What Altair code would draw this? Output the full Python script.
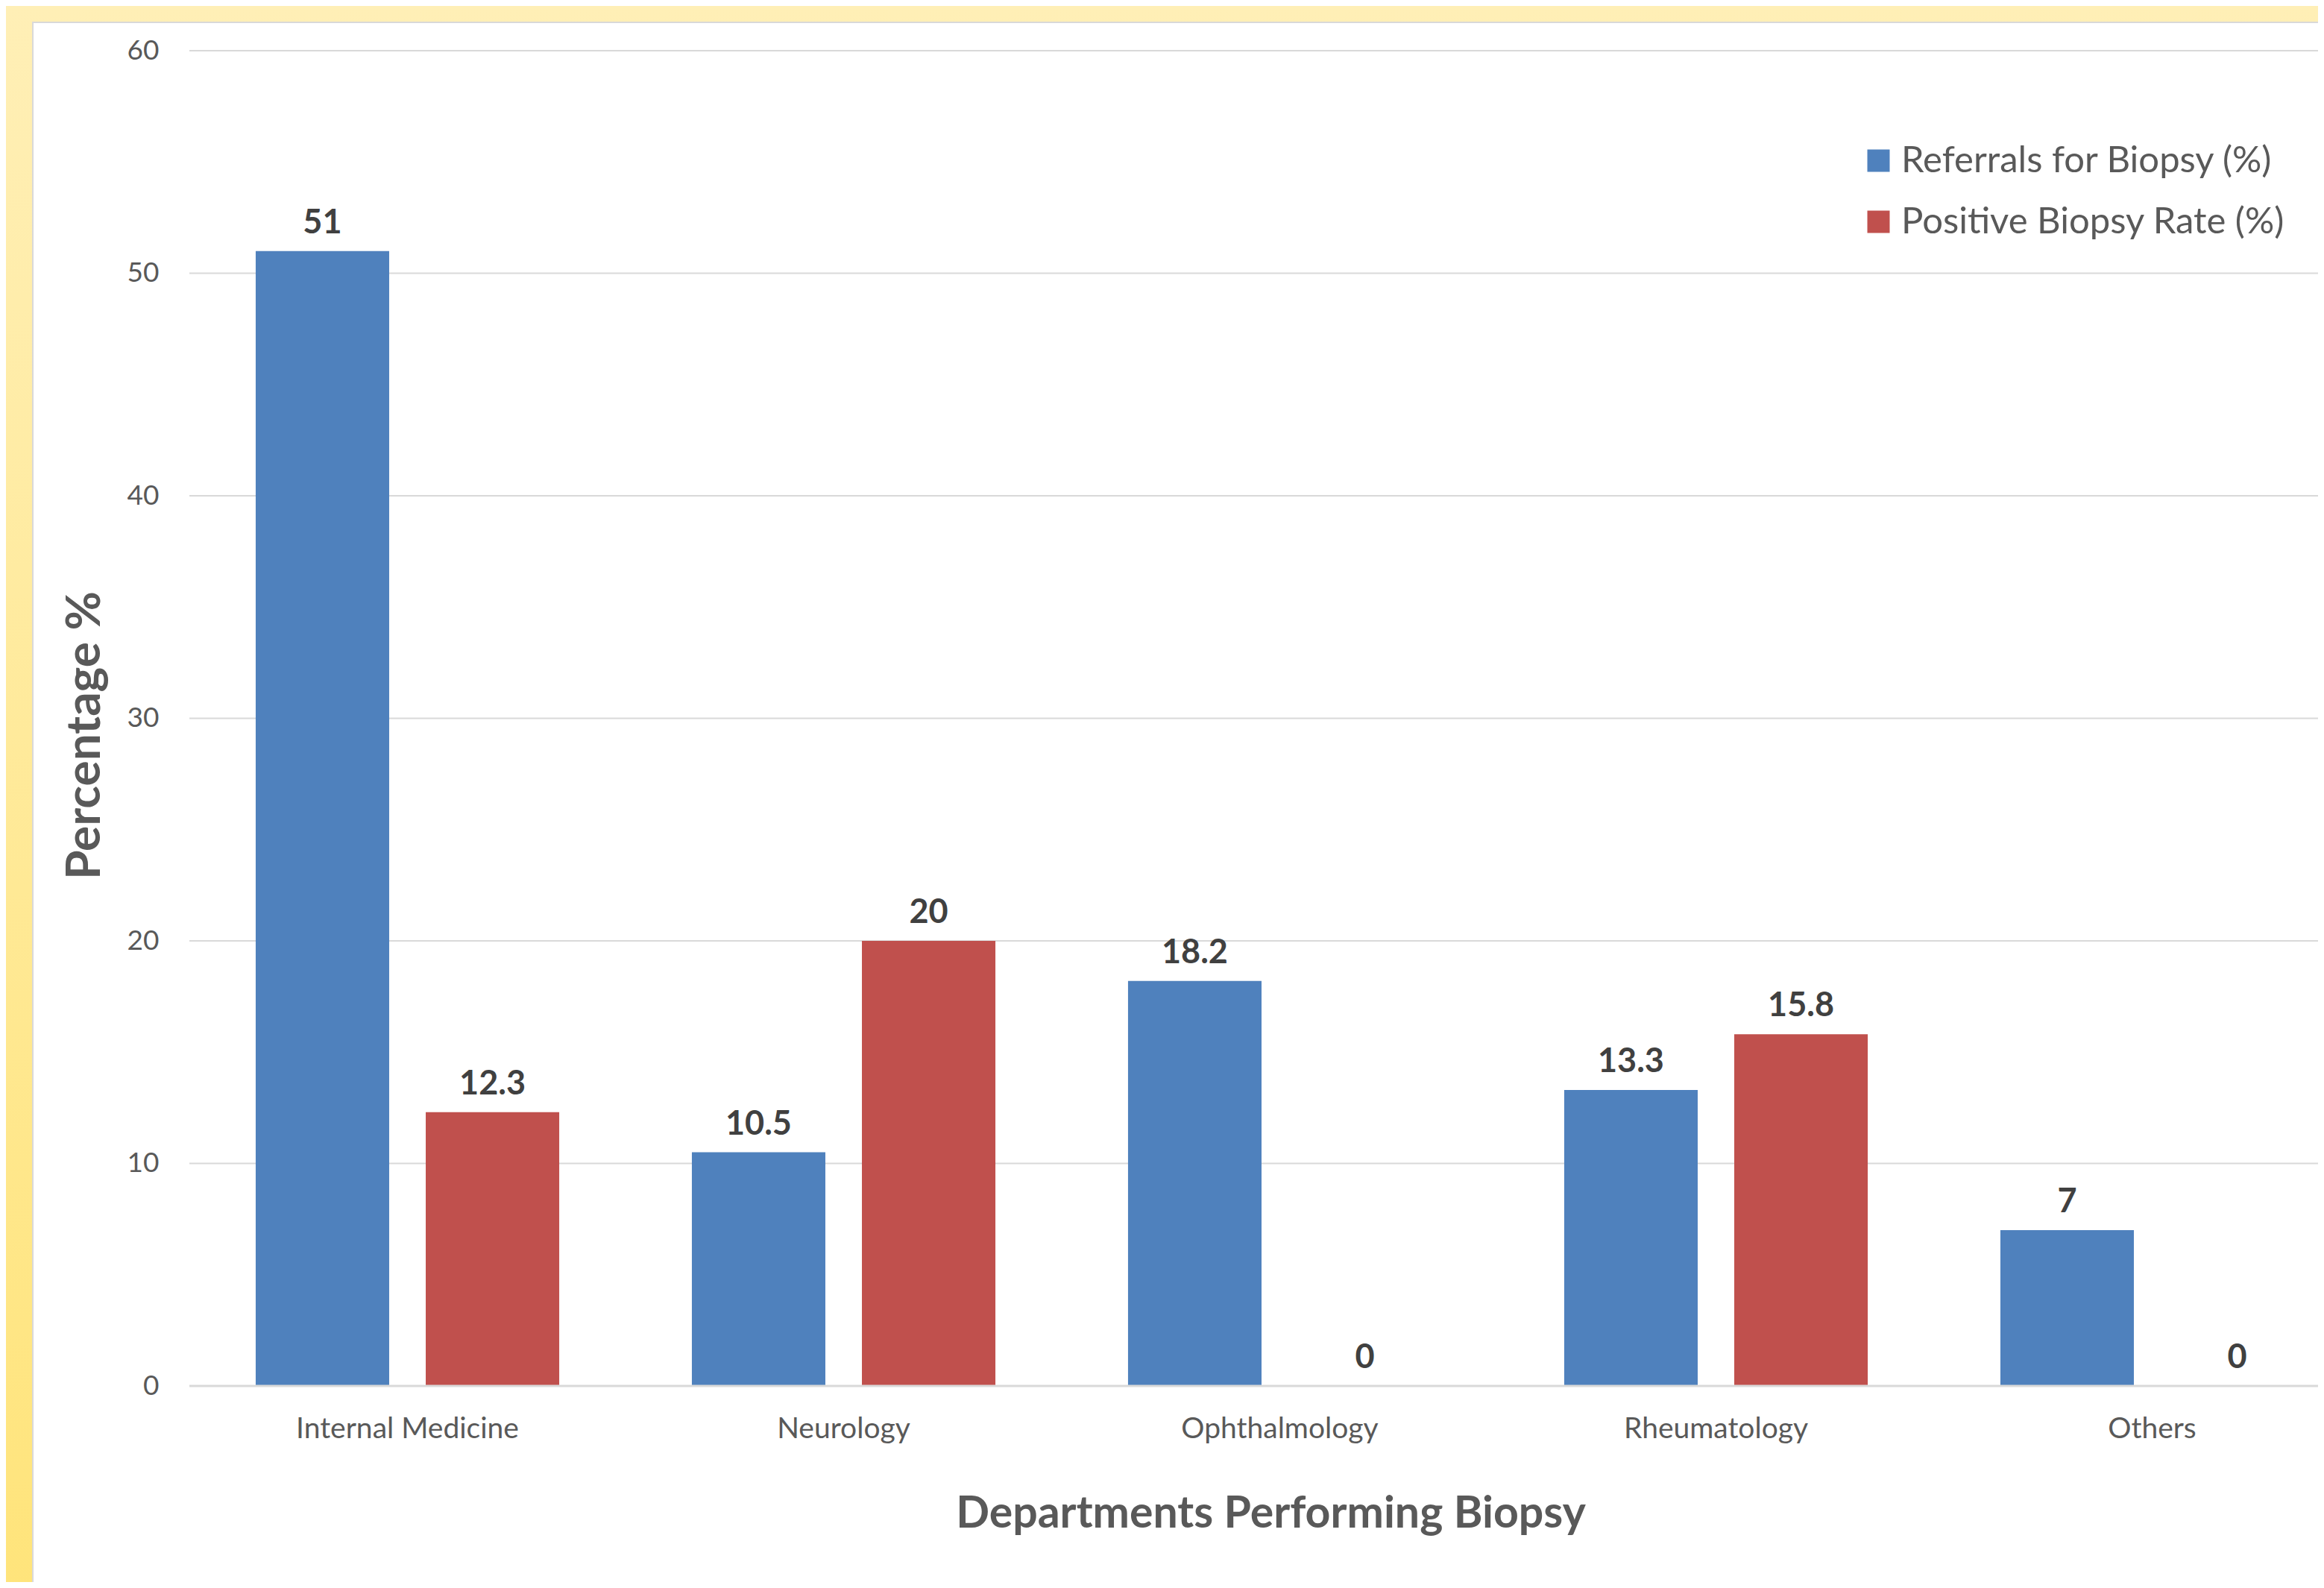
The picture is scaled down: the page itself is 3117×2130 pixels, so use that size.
import altair as alt
import pandas as pd

categories = ["Internal Medicine", "Neurology", "Ophthalmology", "Rheumatology", "Others"]
referrals = [51, 10.5, 18.2, 13.3, 7]
positive = [12.3, 20, 0, 15.8, 0]
series_names = ["Referrals for Biopsy (%)", "Positive Biopsy Rate (%)"]
series_colors = ["#4F81BD", "#C0504D"]
y_ticks = [0, 10, 20, 30, 40, 50, 60]

rows = []
for c, r, p in zip(categories, referrals, positive):
    rows.append({"dept": c, "series": series_names[0], "value": r})
    rows.append({"dept": c, "series": series_names[1], "value": p})
df = pd.DataFrame(rows)
grid_df = pd.DataFrame({"value": y_ticks})

W, H = 2855, 1791
PAD = {"left": 246, "top": 60, "right": 0, "bottom": 263}
FONT = "Lato"
TXT = "#595959"

one = alt.Data(values=[{"k": 1}])

bg = alt.Chart(one).mark_rect(
    color=alt.LinearGradient(
        gradient="linear", x1=0, y1=0, x2=0, y2=1,
        stops=[alt.GradientStop(color="#FFEFB6", offset=0),
               alt.GradientStop(color="#FFE47A", offset=1)]
    )
).encode(
    x=alt.value(-PAD["left"]), x2=alt.value(W + 40),
    y=alt.value(-PAD["top"]), y2=alt.value(H + PAD["bottom"] + 40)
)

panel = alt.Chart(one).mark_rect(color="white", stroke="#D9D9D9", strokeWidth=2).encode(
    x=alt.value(-210), x2=alt.value(W + 40),
    y=alt.value(-38), y2=alt.value(H + PAD["bottom"] + 40)
)

xaxis = alt.Axis(
    title="Departments Performing Biopsy", labelAngle=0, domain=False, ticks=False,
    grid=False, zindex=1, labelLimit=0,
    labelFont=FONT, labelFontSize=39, labelColor=TXT, labelPadding=38,
    titleFont=FONT, titleFontSize=59, titleFontWeight="bold", titleColor=TXT,
    titleX=1450, titleAlign="center", titleY=189, titleBaseline="alphabetic",
)
yaxis = alt.Axis(
    title="Percentage %", values=y_ticks, domain=False, ticks=False,
    grid=False, zindex=1,
    labelFont=FONT, labelFontSize=37, labelColor=TXT, labelPadding=41,
    titleFont=FONT, titleFontSize=64, titleFontWeight="bold", titleColor=TXT,
    titleX=-121, titleY=918, titleBaseline="alphabetic",
)
xscale = alt.Scale(range=[0, 2925], paddingInner=0, paddingOuter=0)
yscale = alt.Scale(domain=[0, 60], nice=False)

xenc = alt.X("dept:N", sort=categories, scale=xscale, axis=xaxis)
yenc = alt.Y("value:Q", scale=yscale, axis=yaxis)
xoff = alt.XOffset("series:N", sort=series_names,
                   scale=alt.Scale(paddingInner=0.215, paddingOuter=0.39))

grid = alt.Chart(grid_df).mark_rule(color="#D9D9D9", strokeWidth=2).encode(
    y=yenc
)

bars = alt.Chart(df).mark_bar().encode(
    x=xenc, xOffset=xoff, y=yenc,
    color=alt.Color(
        "series:N", sort=series_names,
        scale=alt.Scale(domain=series_names, range=series_colors),
        legend=alt.Legend(
            title=None, orient="none", legendX=2241, legendY=123,
            symbolType="square", symbolSize=900, symbolStrokeWidth=0,
            labelFont=FONT, labelFontSize=49, labelColor=TXT, labelOffset=6,
            labelLimit=0, rowPadding=32, padding=0,
        ),
    ),
)

labels = alt.Chart(df).mark_text(
    font=FONT, fontSize=45, fontWeight="bold", color="#404040",
    baseline="alphabetic", dy=-24,
).encode(
    x=xenc, xOffset=xoff, y=yenc,
    text=alt.Text("value:Q", format="~g"),
)

base_rule = alt.Chart(one).mark_rule(color="#D9D9D9", strokeWidth=3).encode(
    y=alt.datum(0)
)

chart = alt.layer(bg, panel, grid, bars, base_rule, labels).properties(
    width=W, height=H,
    autosize=alt.AutoSizeParams(type="none"),
    padding=PAD,
).configure_view(stroke=None)

chart.save("out.html", embed_options={"renderer": "svg", "actions": False})
